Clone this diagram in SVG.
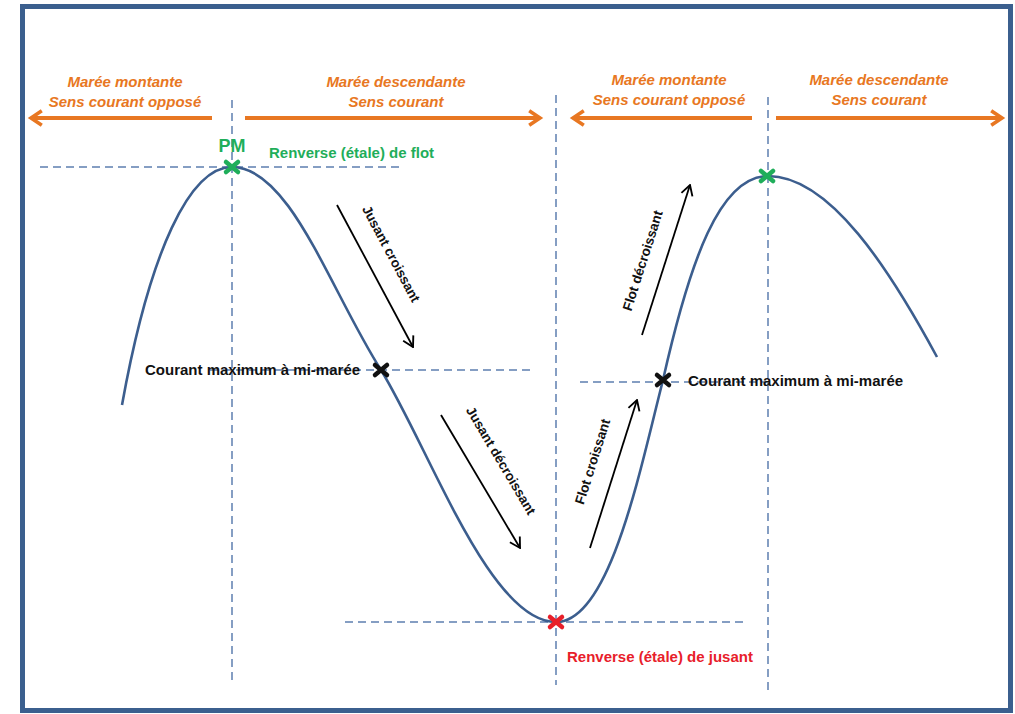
<svg xmlns="http://www.w3.org/2000/svg" width="1015" height="714" viewBox="0 0 1015 714">
<style>
.frame{fill:#fff;stroke:#3b5f8e;stroke-width:5}
.dash{fill:none;stroke:#5d7fb0;stroke-width:1.5;stroke-dasharray:8 5}
.curve{fill:none;stroke:#3c5e8e;stroke-width:2.6}
.or{fill:none;stroke:#e87722;stroke-width:4}
.blk{fill:none;stroke:#000;stroke-width:1.8}
.ot{font-family:"Liberation Sans",Arial,sans-serif;font-weight:bold;font-style:italic;font-size:15px;fill:#e87722;text-anchor:middle}
.bt{font-family:"Liberation Sans",Arial,sans-serif;font-weight:bold;font-size:15px;fill:#111}
.rt{font-family:"Liberation Sans",Arial,sans-serif;font-weight:bold;font-size:13.5px;fill:#111;text-anchor:middle}
.gt{font-family:"Liberation Sans",Arial,sans-serif;font-weight:bold;font-size:15px;fill:#1fae5a}
.pm{font-family:"Liberation Sans",Arial,sans-serif;font-weight:bold;font-size:18px;fill:#1fae5a;text-anchor:middle}
.red{font-family:"Liberation Sans",Arial,sans-serif;font-weight:bold;font-size:15px;fill:#e8202a}
</style>
<defs>
<marker id="oh" viewBox="0 0 10 10" refX="8" refY="5" markerWidth="4.5" markerHeight="4.5" orient="auto" markerUnits="strokeWidth">
<polyline points="2,1 8,5 2,9" fill="none" stroke="#e87722" stroke-width="2"/>
</marker>
<marker id="bh" viewBox="0 0 10 10" refX="9" refY="5" markerWidth="8" markerHeight="8" orient="auto" markerUnits="strokeWidth">
<polyline points="2,1 9,5 2,9" fill="none" stroke="#000" stroke-width="1.3"/>
</marker>
<g id="x">
<path d="M-6,-5 L6,5 M-6,5 L6,-5" stroke-width="4.5" stroke-linecap="round"/>
</g>
</defs>
<rect class="frame" x="22.5" y="6.5" width="988" height="704"/>

<g id="guides">
<line class="dash" x1="232" y1="100" x2="232" y2="685"/>
<line class="dash" x1="556" y1="95" x2="556" y2="685"/>
<line class="dash" x1="768" y1="97" x2="768" y2="690"/>
<line class="dash" x1="40" y1="167" x2="402" y2="167"/>
<line class="dash" x1="210" y1="370" x2="535" y2="370"/>
<line class="dash" x1="580" y1="382" x2="768" y2="382"/>
<line class="dash" x1="345" y1="622" x2="745" y2="622"/>
</g>

<g id="connectors">
<path id="tide-curve" class="curve" d="M122,405 C150,250 190,167 232,167 C290,167 330,290 381,370 C430,450 490,622 556,622 C610,622 640,470 663,380 C690,260 720,176 768,176 C830,176 890,270 937,357"/>
<line class="or" x1="212" y1="118" x2="31" y2="118" marker-end="url(#oh)"/>
<line class="or" x1="245" y1="118" x2="540" y2="118" marker-end="url(#oh)"/>
<line class="or" x1="752" y1="118" x2="573" y2="118" marker-end="url(#oh)"/>
<line class="or" x1="776" y1="118" x2="1002" y2="118" marker-end="url(#oh)"/>
<line class="blk" x1="337" y1="205" x2="413" y2="347" marker-end="url(#bh)"/>
<line class="blk" x1="441" y1="415" x2="520" y2="548" marker-end="url(#bh)"/>
<line class="blk" x1="590" y1="548" x2="637" y2="400" marker-end="url(#bh)"/>
<line class="blk" x1="642" y1="335" x2="690" y2="185" marker-end="url(#bh)"/>
</g>

<g id="header-1">
<text class="ot" x="125" y="87">Marée montante</text>
<text class="ot" x="125" y="107">Sens courant opposé</text>
</g>
<g id="header-2">
<text class="ot" x="396" y="87">Marée descendante</text>
<text class="ot" x="396" y="107">Sens courant</text>
</g>
<g id="header-3">
<text class="ot" x="669" y="85">Marée montante</text>
<text class="ot" x="669" y="105">Sens courant opposé</text>
</g>
<g id="header-4">
<text class="ot" x="879" y="85">Marée descendante</text>
<text class="ot" x="879" y="105">Sens courant</text>
</g>

<g id="pm">
<text class="pm" x="232" y="152">PM</text>
<use href="#x" x="232" y="167" stroke="#1fae5a"/>
<text class="gt" x="269" y="158">Renverse (étale) de flot</text>
</g>
<g id="max-1">
<use href="#x" x="381" y="370" stroke="#111"/>
<text class="bt" x="145" y="375">Courant maximum à mi-marée</text>
</g>
<g id="bm">
<use href="#x" x="556" y="622" stroke="#e8202a"/>
<text class="red" x="567" y="662">Renverse (étale) de jusant</text>
</g>
<g id="max-2">
<use href="#x" x="663" y="380" stroke="#111"/>
<text class="bt" x="688" y="386">Courant maximum à mi-marée</text>
</g>
<g id="pm-2">
<use href="#x" x="767" y="176" stroke="#1fae5a"/>
</g>

<g id="label-jc">
<text class="rt" transform="translate(387,256) rotate(61.8)">Jusant  croissant</text>
</g>
<g id="label-jd">
<text class="rt" transform="translate(497,463) rotate(59.3)">Jusant  décroissant</text>
</g>
<g id="label-fc">
<text class="rt" transform="translate(597,463) rotate(-72.4)">Flot  croissant</text>
</g>
<g id="label-fd">
<text class="rt" transform="translate(647,262) rotate(-72.3)">Flot  décroissant</text>
</g>
</svg>
